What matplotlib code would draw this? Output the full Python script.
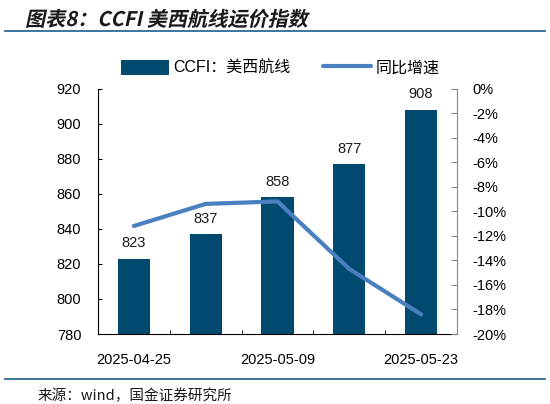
import matplotlib
matplotlib.use("Agg")
import matplotlib.pyplot as plt
from matplotlib.patheffects import AbstractPathEffect
from matplotlib.transforms import Affine2D
from matplotlib.ticker import FuncFormatter, MultipleLocator
import numpy as np

plt.rcParams['font.family'] = ['Liberation Sans', 'Noto Sans CJK SC', 'DejaVu Sans']

dates = ["2025-04-25", "2025-05-02", "2025-05-09", "2025-05-16", "2025-05-23"]
ccfi = [823, 837, 858, 877, 908]
yoy = [-11.2, -9.4, -9.2, -14.7, -18.4]
tick_labels = ["2025-04-25", "", "2025-05-09", "", "2025-05-23"]

bar_color = "#004A70"
line_color = "#4A80C0"
rule_color = "#2F6A94"


class Skew(AbstractPathEffect):
    def __init__(self, origin, deg=12):
        super().__init__()
        self.origin = origin
        self.deg = deg

    def draw_path(self, renderer, gc, tpath, affine, rgbFace=None):
        x0, y0 = self.origin
        sk = Affine2D().translate(-x0, -y0).skew_deg(self.deg, 0).translate(x0, y0)
        renderer.draw_path(gc, tpath, affine + sk, rgbFace)


fig = plt.figure(figsize=(5.5, 4.04), dpi=100)
ax = fig.add_axes([98 / 550, 1 - 334 / 404, (457 - 98) / 550, (334 - 88.5) / 404])
ax2 = ax.twinx()

x = np.arange(len(dates))
bars = ax.bar(x, ccfi, width=0.45, color=bar_color, label="CCFI：美西航线", zorder=2)
for xi, v in zip(x, ccfi):
    ax.annotate(f"{v}", (xi, v), xytext=(0, 6), textcoords="offset points",
                ha="center", va="bottom", fontsize=10.5, color="#1a1a1a")

ax.set_xlim(-0.5, len(dates) - 0.5)
ax.set_ylim(780, 920)
ax.yaxis.set_major_locator(MultipleLocator(20))
ax.set_xticks(x)
ax.set_xticklabels(tick_labels, fontsize=10.5)
ax.tick_params(axis='x', length=0, pad=14)
ax.set_xticks(np.arange(-0.5, len(dates) + 0.5, 1), minor=True)
ax.tick_params(axis='x', which='minor', direction='in', length=3, color='black')
ax.tick_params(axis='y', direction='in', length=3, labelsize=10.5, pad=12)
for s in ['top', 'right']:
    ax.spines[s].set_visible(False)
ax.spines['left'].set_color('black')
ax.spines['bottom'].set_color('black')

line, = ax2.plot(x, yoy, color=line_color, lw=3, solid_capstyle='round', label="同比增速", zorder=3)
ax2.set_ylim(-20, 0)
ax2.yaxis.set_major_locator(MultipleLocator(2))
ax2.yaxis.set_major_formatter(FuncFormatter(lambda v, p: f"{v:.0f}%"))
ax2.tick_params(axis='y', direction='in', length=4, color='#888888', labelsize=10.5, pad=11)
for s in ['top', 'left', 'bottom']:
    ax2.spines[s].set_visible(False)
ax2.spines['right'].set_color('#888888')

leg = fig.legend([bars, line], ["CCFI：美西航线", "同比增速"], loc='center',
                 bbox_to_anchor=(280 / 550, 1 - 68 / 404), ncol=2, frameon=False,
                 prop={'family': ['Liberation Sans', 'Noto Sans CJK SC'], 'size': 11.5},
                 handlelength=3.0, handleheight=1.1, columnspacing=2.0, handletextpad=0.3)

# title
tx, ty = 25 / 550, 1 - 26 / 404
origin = fig.transFigure.transform((tx, ty))
fig.text(tx, ty, "图表8：CCFI 美西航线运价指数", fontsize=14.5, fontweight='bold',
         family=['Noto Sans CJK SC', 'DejaVu Sans'], color='#1a1a1a', va='baseline',
         path_effects=[Skew(origin, 12)])

# rules
fig.add_artist(plt.Line2D([5 / 550, 545 / 550], [1 - 31 / 404] * 2, color=rule_color, lw=1.3))
fig.add_artist(plt.Line2D([5 / 550, 545 / 550], [1 - 379 / 404] * 2, color=rule_color, lw=1.3))

fig.text(38 / 550, 1 - 396 / 404, "来源：wind，国金证券研究所", fontsize=10.5,
         family=['Noto Sans CJK SC', 'DejaVu Sans'], color='#1a1a1a', va='center')

fig.savefig("out.png", dpi=100)
